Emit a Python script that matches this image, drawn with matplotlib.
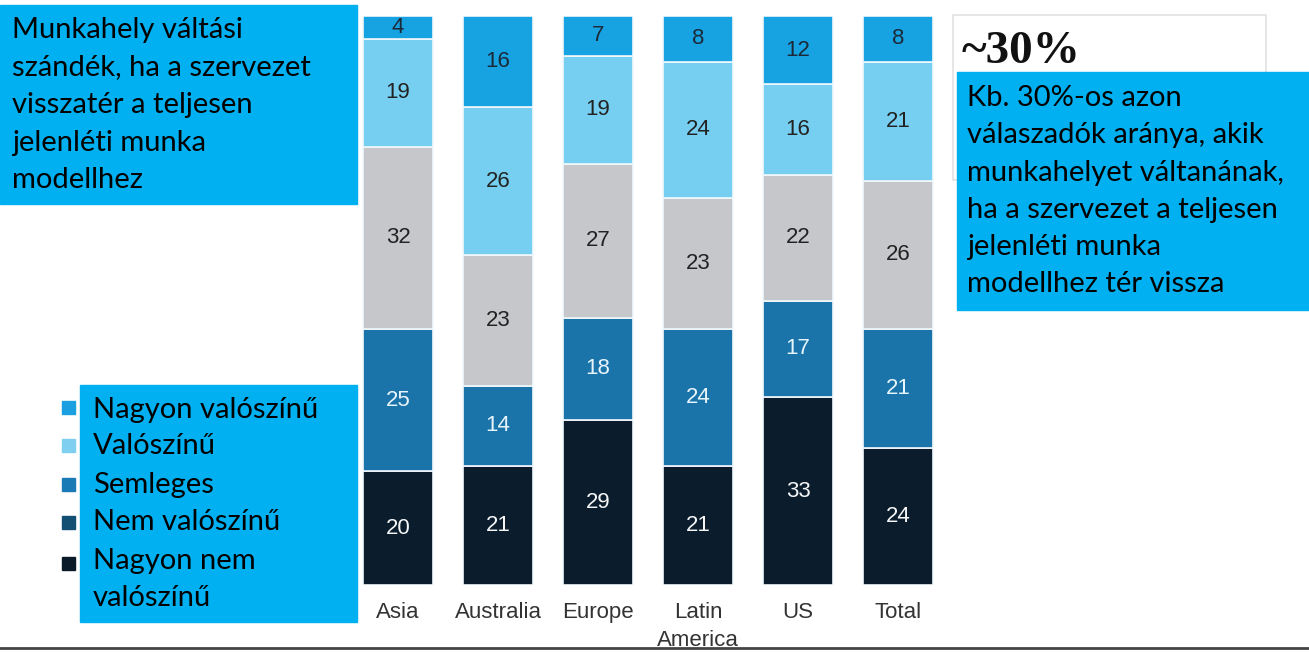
import numpy as np
import matplotlib.pyplot as plt
from matplotlib.patches import Rectangle

# -----------------------------------------------------------
# Data (stacked shares, bottom to top)
# -----------------------------------------------------------
categories = ['Asia', 'Australia', 'Europe', 'Latin\nAmerica', 'US', 'Total']
very_unlikely = [20, 21, 29, 21, 33, 24]
unlikely = [25, 14, 18, 24, 17, 21]
neutral = [32, 23, 27, 23, 22, 26]
likely = [19, 26, 19, 24, 16, 21]
very_likely = [4, 16, 7, 8, 12, 8]

legend_labels = ['Nagyon valószínű', 'Valószínű', 'Semleges', 'Nem valószínű',
                 'Nagyon nem\nvalószínű']
left_lines = ['Munkahely váltási', 'szándék, ha a szervezet', 'visszatér a teljesen',
              'jelenléti munka', 'modellhez']
right_lines = ['Kb. 30%-os azon', 'válaszadók aránya, akik', 'munkahelyet váltanának,',
               'ha a szervezet a teljesen', 'jelenléti munka', 'modellhez tér vissza']

series = [very_unlikely, unlikely, neutral, likely, very_likely]
seg_colors = ['#0b1c2c', '#1a74aa', '#c5c7ca', '#76cff0', '#17a2e2']
text_colors = ['#f4f6f8', '#e8f4fb', '#222222', '#222222', '#1c2a38']
legend_colors = ['#1a9fe0', '#7fd0f0', '#1a7ab5', '#124f72', '#0b1a28']
box_blue = '#00b0f0'

W, H = 1309, 652
fig = plt.figure(figsize=(W / 100, H / 100), dpi=100)

# bar axes placed in pixel terms
x0, x1 = 348, 948
y_top, y_bot = 16, 585
ax = fig.add_axes([x0 / W, 1 - y_bot / H, (x1 - x0) / W, (y_bot - y_top) / H])
x = np.arange(len(categories))
bottom = np.zeros(len(categories))
for vals, c, tc in zip(series, seg_colors, text_colors):
    vals = np.array(vals)
    ax.bar(x, vals, width=0.7, bottom=bottom, color=c, edgecolor='#f2f8fc', linewidth=1.2)
    for xi, b, v in zip(x, bottom, vals):
        ax.text(xi, b + v / 2, str(v), ha='center', va='center', color=tc,
                fontsize=16, family='Liberation Sans')
    bottom += vals

ax.set_xlim(-0.5, len(categories) - 0.5)
ax.set_ylim(0, 100)
ax.set_xticks(x)
ax.set_xticklabels(categories, fontsize=16, color='#333333', family='Liberation Sans',
                   linespacing=1.45)
ax.tick_params(axis='x', length=0, pad=12)
ax.set_yticks([])
for s in ax.spines.values():
    s.set_visible(False)

# overlay in pixel coordinates for the annotation boxes
ov = fig.add_axes([0, 0, 1, 1], facecolor='none')
ov.set_xlim(0, W)
ov.set_ylim(H, 0)
ov.axis('off')

font_box = 'Lato'
fs_box = 21

# top-left box
ov.add_patch(Rectangle((0, 5), 357, 199, color=box_blue, zorder=1))
for i, line in enumerate(left_lines):
    ov.text(12, 30 + i * 37.5, line, ha='left', va='center', fontsize=fs_box,
            family=font_box, color='black', zorder=2)

# legend box
ov.add_patch(Rectangle((80, 385), 277, 237, color=box_blue, zorder=1))
sq_y = [407, 445, 484, 522, 563]
txt_y = [410, 446, 485, 522, 561]
for c, lab, sy, ty in zip(legend_colors, legend_labels, sq_y, txt_y):
    ov.add_patch(Rectangle((62, sy - 6.5), 13, 13, color=c, zorder=2))
    for j, part in enumerate(lab.split('\n')):
        ov.text(93, ty + j * 37, part, ha='left', va='center', fontsize=fs_box,
                family=font_box, color='black', zorder=2)

# "~30%" card with the blue note on top
ov.add_patch(Rectangle((953, 15), 313, 165, facecolor='white', edgecolor='#e2e2e2',
                       linewidth=1.2, zorder=1))
ov.text(962, 52, '~30%', ha='left', va='center', fontsize=34, family='Liberation Serif',
        fontweight='bold', color='#111111', zorder=2)
ov.add_patch(Rectangle((957, 72), 352, 238, color=box_blue, zorder=3))
for i, line in enumerate(right_lines):
    ov.text(967, 98 + i * 37.3, line, ha='left', va='center', fontsize=fs_box,
            family=font_box, color='black', zorder=4)

# bottom rule
ov.plot([0, W], [648, 648], color='#444444', linewidth=2, zorder=2)

fig.savefig('out.png', dpi=100)
